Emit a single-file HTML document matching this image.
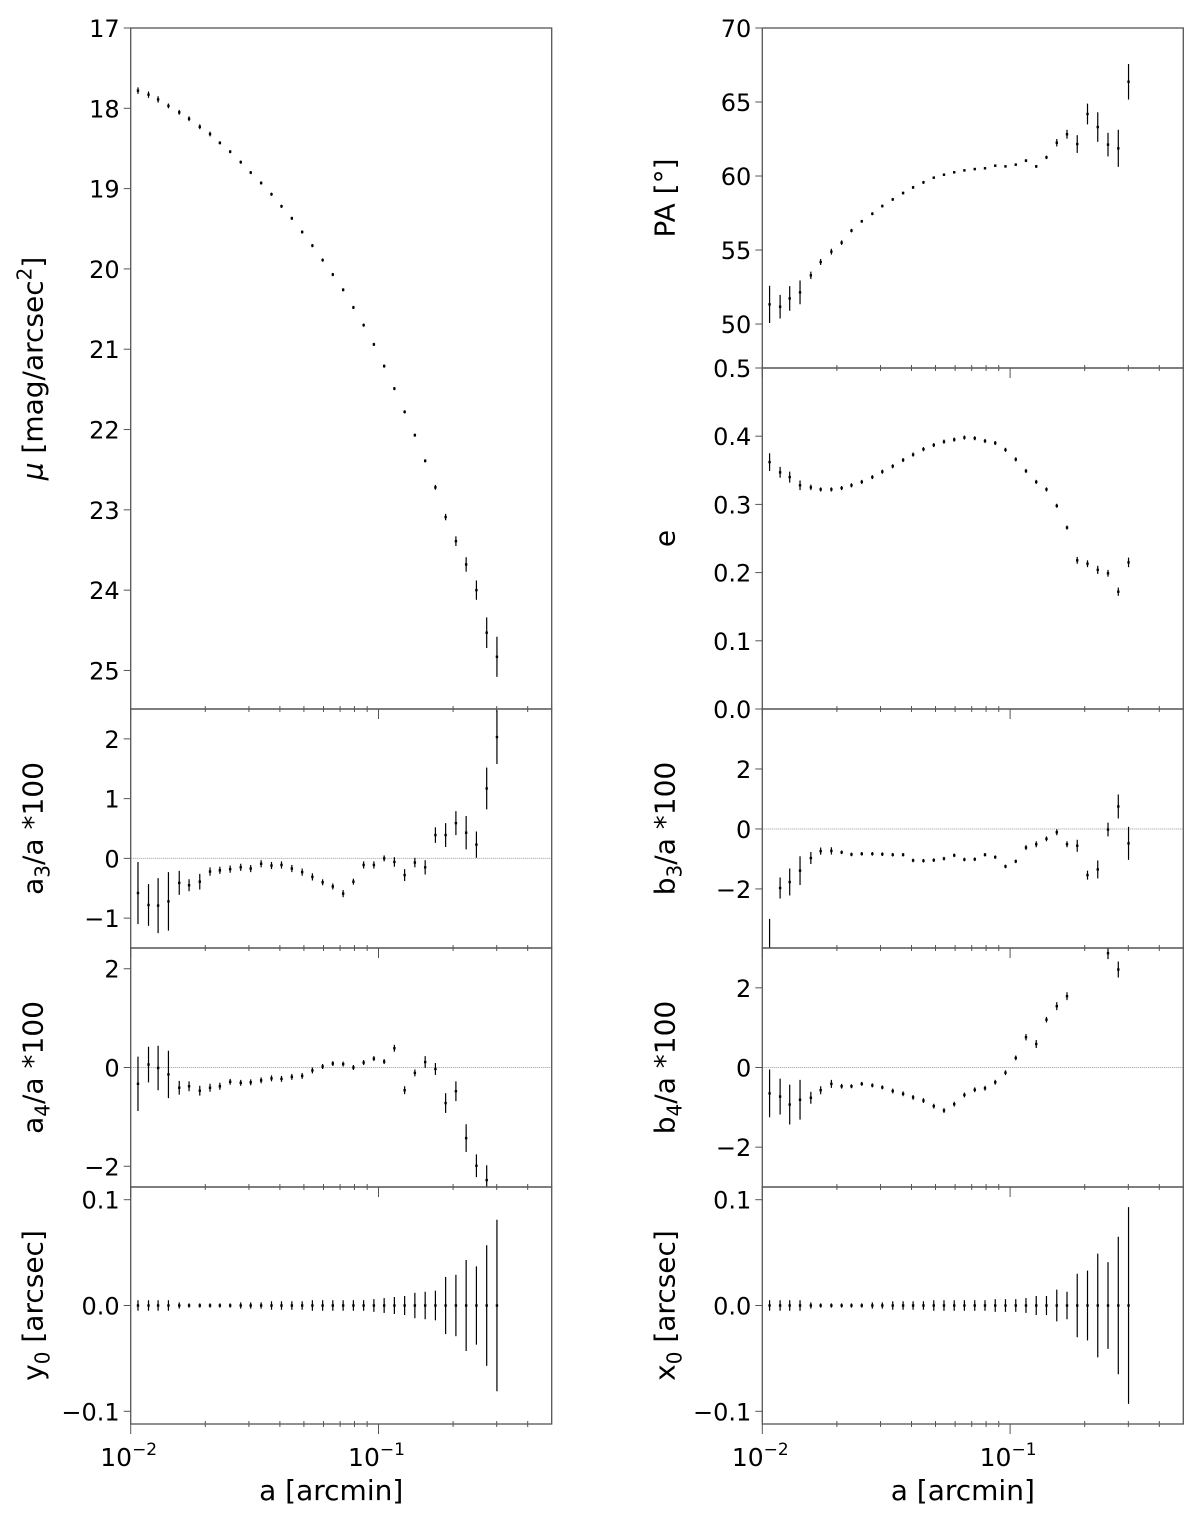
<!DOCTYPE html>
<html><head><meta charset="utf-8"><style>
html,body{margin:0;padding:0;background:#fff;}
svg text{font-family:"DejaVu Sans","Liberation Sans",sans-serif;fill:#000;}
</style></head><body>
<svg id="fig" xmlns="http://www.w3.org/2000/svg" width="1200" height="1509" viewBox="0 0 1200 1509"></svg>
<script>
// semi-major axis a [arcmin]
const radius = [0.0107,0.0118,0.0129,0.0142,0.0157,0.0172,0.0190,0.0209,0.0229,0.0252,0.0278,0.0305,0.0336,0.0370,0.0406,0.0447,0.0492,0.0541,0.0595,0.0654,0.0720,0.0792,0.0871,0.0958,0.1054,0.1159,0.1275,0.1402,0.1543,0.1697,0.1866,0.2053,0.2258,0.2484,0.2733,0.3006];
const muVals = [17.78,17.83,17.89,17.97,18.05,18.13,18.23,18.32,18.43,18.54,18.67,18.80,18.93,19.07,19.22,19.37,19.54,19.71,19.89,20.07,20.26,20.48,20.70,20.94,21.21,21.49,21.78,22.07,22.39,22.72,23.09,23.39,23.68,24.00,24.53,24.83];
const muErr = [0.04,0.04,0.04,0.03,0.03,0.03,0.03,0.03,0.02,0.02,0.02,0.02,0.02,0.02,0.02,0.02,0.02,0.02,0.02,0.02,0.02,0.02,0.02,0.02,0.02,0.02,0.02,0.02,0.02,0.03,0.04,0.06,0.09,0.12,0.19,0.25];
const paVals = [51.33,51.17,51.73,52.14,53.29,54.19,54.89,55.50,56.31,56.94,57.45,57.97,58.42,58.85,59.23,59.57,59.89,60.09,60.25,60.38,60.47,60.52,60.70,60.65,60.77,61.04,60.65,61.26,62.25,62.82,62.16,64.19,63.31,62.12,61.87,66.37];
const paErr = [1.26,0.8,0.83,0.8,0.25,0.2,0.2,0.15,0.12,0.1,0.1,0.1,0.1,0.1,0.1,0.1,0.08,0.08,0.08,0.08,0.08,0.08,0.08,0.08,0.08,0.1,0.1,0.12,0.25,0.3,0.6,0.7,1.0,0.8,1.25,1.2];
const ellVals = [0.362,0.347,0.340,0.328,0.325,0.322,0.322,0.324,0.328,0.333,0.340,0.348,0.356,0.365,0.373,0.381,0.387,0.392,0.395,0.398,0.397,0.393,0.390,0.380,0.366,0.349,0.333,0.322,0.298,0.266,0.218,0.213,0.204,0.199,0.172,0.215];
const ellErr = [0.013,0.008,0.008,0.007,0.004,0.003,0.003,0.003,0.003,0.003,0.003,0.003,0.003,0.003,0.003,0.003,0.003,0.003,0.003,0.003,0.003,0.003,0.003,0.003,0.003,0.003,0.003,0.003,0.003,0.003,0.005,0.005,0.006,0.005,0.006,0.007];
const a3Vals = [-0.58,-0.78,-0.79,-0.72,-0.41,-0.45,-0.39,-0.22,-0.20,-0.18,-0.15,-0.17,-0.09,-0.12,-0.11,-0.17,-0.23,-0.31,-0.40,-0.47,-0.59,-0.39,-0.11,-0.11,0.0,-0.06,-0.28,-0.07,-0.15,0.39,0.39,0.59,0.43,0.23,1.17,2.03];
const a3Err = [0.52,0.35,0.46,0.49,0.2,0.1,0.13,0.07,0.06,0.06,0.06,0.06,0.06,0.06,0.06,0.06,0.06,0.06,0.05,0.05,0.06,0.05,0.06,0.06,0.05,0.08,0.1,0.08,0.12,0.13,0.2,0.2,0.28,0.22,0.35,0.45];
const a4Vals = [-0.33,0.06,-0.01,-0.14,-0.41,-0.38,-0.47,-0.41,-0.38,-0.29,-0.31,-0.30,-0.26,-0.22,-0.23,-0.19,-0.17,-0.06,0.02,0.08,0.07,0.0,0.10,0.18,0.12,0.39,-0.46,-0.11,0.11,-0.03,-0.72,-0.48,-1.43,-1.99,-2.28,-3.0];
const a4Err = [0.55,0.36,0.45,0.48,0.14,0.1,0.1,0.08,0.07,0.06,0.06,0.06,0.06,0.06,0.06,0.06,0.06,0.06,0.05,0.05,0.05,0.05,0.05,0.05,0.05,0.07,0.08,0.07,0.12,0.12,0.2,0.2,0.28,0.23,0.3,0.4];
const b3Vals = [-4.2,-1.97,-1.77,-1.39,-0.97,-0.74,-0.73,-0.78,-0.85,-0.83,-0.83,-0.84,-0.86,-0.86,-1.05,-1.06,-1.04,-0.99,-0.88,-1.02,-1.01,-0.86,-0.94,-1.25,-1.08,-0.62,-0.51,-0.33,-0.11,-0.51,-0.56,-1.54,-1.35,-0.02,0.75,-0.48];
const b3Err = [1.2,0.35,0.45,0.48,0.2,0.12,0.12,0.06,0.06,0.06,0.06,0.06,0.06,0.06,0.06,0.06,0.06,0.06,0.06,0.06,0.06,0.06,0.06,0.06,0.06,0.08,0.1,0.08,0.1,0.1,0.2,0.15,0.3,0.23,0.4,0.55];
const b4Vals = [-0.65,-0.73,-0.93,-0.81,-0.76,-0.57,-0.41,-0.47,-0.47,-0.41,-0.45,-0.50,-0.59,-0.66,-0.75,-0.83,-0.97,-1.08,-0.92,-0.69,-0.56,-0.52,-0.37,-0.13,0.24,0.76,0.59,1.20,1.54,1.79,3.4,3.6,3.3,2.87,2.46,3.5];
const b4Err = [0.6,0.45,0.5,0.5,0.15,0.1,0.1,0.06,0.05,0.05,0.05,0.05,0.06,0.06,0.06,0.06,0.06,0.06,0.06,0.06,0.06,0.06,0.06,0.06,0.06,0.08,0.1,0.07,0.1,0.1,0.2,0.2,0.2,0.15,0.2,0.3];
const y0Vals = [0,0,0,0,0,0,0,0,0,0,0,0,0,0,0,0,0,0,0,0,0,0,0,0,0,0,0,0,0,0,0,0,0,0,0,0];
const y0Err = [0.005,0.005,0.005,0.005,0.003,0.002,0.002,0.002,0.002,0.002,0.003,0.003,0.003,0.004,0.004,0.004,0.004,0.005,0.005,0.005,0.005,0.005,0.005,0.006,0.007,0.008,0.009,0.012,0.013,0.014,0.027,0.029,0.043,0.037,0.057,0.081];
const x0Vals = [0,0,0,0,0,0,0,0,0,0,0,0,0,0,0,0,0,0,0,0,0,0,0,0,0,0,0,0,0,0,0,0,0,0,0,0];
const x0Err = [0.005,0.005,0.005,0.005,0.003,0.002,0.002,0.002,0.002,0.002,0.003,0.003,0.004,0.004,0.004,0.004,0.005,0.005,0.005,0.005,0.005,0.005,0.006,0.006,0.006,0.007,0.009,0.009,0.015,0.013,0.030,0.033,0.049,0.041,0.065,0.093];
const muTicks = [17,18,19,20,21,22,23,24,25];
const paTicks = [50,55,60,65,70];
const ellTicks = ["0.0","0.1","0.2","0.3","0.4","0.5"];
const a3Ticks = [-1,0,1,2];
const a4Ticks = [-2,0,2];
const b3Ticks = [-2,0,2];
const b4Ticks = [-2,0,2];
const cenTicks = ["-0.1","0.0","0.1"];

const NS = "http://www.w3.org/2000/svg";
const svg = document.getElementById('fig');
function mk(tag, attrs, parent){
  const e = document.createElementNS(NS, tag);
  for (const k in attrs) e.setAttribute(k, attrs[k]);
  (parent||svg).appendChild(e);
  return e;
}
const XMIN = Math.log10(0.01), XMAX = Math.log10(0.5);
let clipId = 0;
function panel(cfg){
  const {x0, y0, w, h, ymin, ymax, invert, ticks, vals, errs, name, label, zero, xlabels, labelY} = cfg;
  const g = mk('g', {});
  
  
  const xs = v => x0 + (Math.log10(v) - XMIN) / (XMAX - XMIN) * w;
  const ys = v => invert ? y0 + (v - ymin) / (ymax - ymin) * h : y0 + h - (v - ymin) / (ymax - ymin) * h;
  const cid = 'clip' + (clipId++);
  const cp = mk('clipPath', {id: cid}, g);
  mk('rect', {x: x0, y: y0, width: w, height: h}, cp);
  const marks = mk('g', {'clip-path': 'url(#' + cid + ')'}, g);
  
  
  if (zero) {
    const zl = mk('line', {x1: x0, x2: x0 + w, y1: ys(0), y2: ys(0), stroke: '#999', 'stroke-width': 1, 'stroke-dasharray': '1,1'}, marks);
    
    
  }
  for (let i = 0; i < radius.length; i++){
    const px = xs(radius[i]);
    const eb = mk('line', {x1: px, x2: px, y1: ys(vals[i] - errs[i]), y2: ys(vals[i] + errs[i]), stroke: '#000', 'stroke-width': 1.2}, marks);
    
    
    const pt = mk('rect', {x: px - 1.2, y: ys(vals[i]) - 1.2, width: 2.4, height: 2.4, fill: '#000'}, marks);
    
    
  }
  const fr = mk('rect', {x: x0, y: y0, width: w, height: h, fill: 'none', stroke: '#555', 'stroke-width': 1.3}, g);
  
  
  ticks.forEach(t => {
    const v = parseFloat(t);
    const py = ys(v);
    mk('line', {x1: x0 - 7, x2: x0, y1: py, y2: py, stroke: '#555', 'stroke-width': 1}, g);
    const tx = mk('text', {x: x0 - 11, y: py + 9, 'font-size': 24, 'text-anchor': 'end'}, g);
    tx.textContent = String(t).replace('-', '\u2212');
    
    
  });
  const by = y0 + h;
  [0.01, 0.1].forEach(m => mk('line', {x1: xs(m), x2: xs(m), y1: by, y2: by + 10, stroke: '#555', 'stroke-width': 1}, g));
  [0.02,0.03,0.04,0.05,0.06,0.07,0.08,0.09,0.2,0.3,0.4].forEach(m => mk('line', {x1: xs(m), x2: xs(m), y1: by - 3, y2: by + 3, stroke: '#555', 'stroke-width': 1}, g));
  if (xlabels){
    [[0.01,'\u22122'],[0.1,'\u22121']].forEach(([m, e]) => {
      const t = mk('text', {x: xs(m) - 2, y: by + 42, 'font-size': 25, 'text-anchor': 'middle'}, g);
      
      
      t.textContent = '10';
      const s = mk('tspan', {'font-size': 17, dy: -11}, t);
      s.textContent = e;
    });
    const xl = mk('text', {x: x0 + w / 2 - 10, y: by + 76, 'font-size': 28, 'text-anchor': 'middle'}, g);
    
    
    xl.textContent = 'a [arcmin]';
  }
  const lx = x0 - 88, ly = labelY || (y0 + h / 2);
  const yl = mk('text', {x: lx, y: ly, 'font-size': 28, 'text-anchor': 'middle', transform: 'rotate(-90 ' + lx + ' ' + ly + ')'}, g);
  
  
  label(yl);
}
function simple(txt){ return el => { el.textContent = txt; }; }
function subLabel(a, sub, rest){
  return el => {
    const t1 = mk('tspan', {}, el); t1.textContent = a;
    const t2 = mk('tspan', {'font-size': 20, dy: 7}, el); t2.textContent = sub;
    const t3 = mk('tspan', {dy: -7}, el); t3.textContent = rest;
  };
}
const LX = 130.7, RX = 762.3, W = 421;
panel({x0: LX, y0: 28, w: W, h: 681, ymin: 17, ymax: 25.48, invert: true, ticks: muTicks, vals: muVals, errs: muErr, name: 'mu', label: el => {
  const t1 = mk('tspan', {'font-style': 'italic'}, el); t1.textContent = '\u03BC';
  const t2 = mk('tspan', {}, el); t2.textContent = ' [mag/arcsec';
  const t3 = mk('tspan', {'font-size': 20, dy: -11}, el); t3.textContent = '2';
  const t4 = mk('tspan', {dy: 11}, el); t4.textContent = ']';
}});
panel({x0: LX, y0: 709, w: W, h: 239, ymin: -1.5, ymax: 2.5, ticks: a3Ticks, vals: a3Vals, errs: a3Err, name: 'a3', zero: true, label: subLabel('a', '3', '/a *100')});
panel({x0: LX, y0: 948, w: W, h: 239, ymin: -2.42, ymax: 2.42, ticks: a4Ticks, vals: a4Vals, errs: a4Err, name: 'a4', zero: true, label: subLabel('a', '4', '/a *100')});
panel({x0: LX, y0: 1187, w: W, h: 237, ymin: -0.112, ymax: 0.112, ticks: cenTicks, vals: y0Vals, errs: y0Err, name: 'y0', xlabels: true, label: subLabel('y', '0', ' [arcsec]')});
panel({x0: RX, y0: 28, w: W, h: 340, ymin: 47.03, ymax: 70, ticks: paTicks, vals: paVals, errs: paErr, name: 'pa', label: simple('PA [\u00B0]')});
panel({x0: RX, y0: 368, w: W, h: 341, ymin: 0, ymax: 0.5, ticks: ellTicks, vals: ellVals, errs: ellErr, name: 'ellipticity', label: simple('e')});
panel({x0: RX, y0: 709, w: W, h: 239, ymin: -3.97, ymax: 4.0, ticks: b3Ticks, vals: b3Vals, errs: b3Err, name: 'b3', zero: true, label: subLabel('b', '3', '/a *100')});
panel({x0: RX, y0: 948, w: W, h: 239, ymin: -3.0, ymax: 3.0, ticks: b4Ticks, vals: b4Vals, errs: b4Err, name: 'b4', zero: true, label: subLabel('b', '4', '/a *100')});
panel({x0: RX, y0: 1187, w: W, h: 237, ymin: -0.112, ymax: 0.112, ticks: cenTicks, vals: x0Vals, errs: x0Err, name: 'x0', xlabels: true, label: subLabel('x', '0', ' [arcsec]')});
</script>
</body></html>
